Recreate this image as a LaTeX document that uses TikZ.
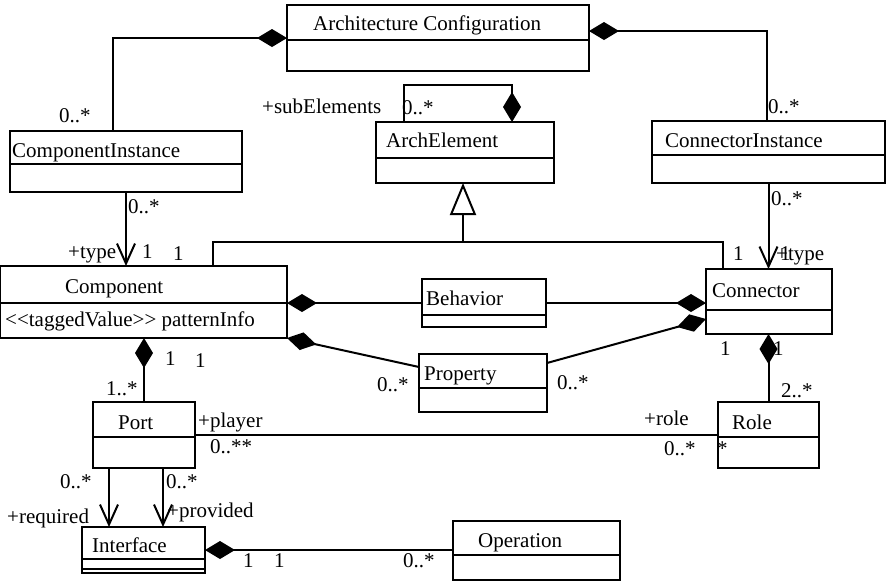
\documentclass[tikz,border=0pt]{standalone}
\usepackage{fontspec}
\setmainfont{Liberation Serif}
\usetikzlibrary{arrows.meta,fit}

% class box from its two corners
\newcommand\umlclassbox[5]{%
  \path (#2,#3) coordinate (#1-nw) (#4,#5) coordinate (#1-se);
  \node[classbox, fit=(#1-nw)(#1-se)] (#1) {};
}
% compartment line across a class box at height #2
\newcommand\umlcompartment[2]{%
  \draw[divider] (#1.west |- 0,#2) -- (#1.east |- 0,#2);
}

\begin{document}
\begin{tikzpicture}[x=1pt,y=-1pt,
  font=\fontsize{21}{25}\selectfont,
  classbox/.style={draw, line width=2.4pt, inner sep=0pt, outer sep=0pt},
  divider/.style={line width=2pt},
  txt/.style={anchor=base west, inner sep=0pt},
  link/.style={line width=2pt},
  compo/.style={link, {Diamond[length=30pt,width=18pt]}-},
  navig/.style={link, -{Straight Barb[length=20pt,width=18pt]}},
  generalize/.style={link, -{Triangle[open,length=32pt,width=26pt,fill=white]}},
]
\useasboundingbox (0,0) rectangle (887,582);

% classes
\umlclassbox{cfg}{287}{5}{589}{71}     \umlcompartment{cfg}{40}
\umlclassbox{ci}{10}{131}{242}{192}    \umlcompartment{ci}{164}
\umlclassbox{ae}{376}{122}{554}{183}   \umlcompartment{ae}{158}
\umlclassbox{coi}{652}{121}{885}{183}  \umlcompartment{coi}{155}
\umlclassbox{comp}{0}{266}{287}{338}   \umlcompartment{comp}{303}
\umlclassbox{beh}{422}{279}{546}{327}  \umlcompartment{beh}{315}
\umlclassbox{conn}{706}{269}{832}{334} \umlcompartment{conn}{310}
\umlclassbox{prop}{419}{354}{547}{412} \umlcompartment{prop}{388}
\umlclassbox{port}{93}{402}{195}{468}  \umlcompartment{port}{437}
\umlclassbox{role}{718}{402}{819}{468} \umlcompartment{role}{437}
\umlclassbox{intf}{82}{527}{205}{573}  \umlcompartment{intf}{559} \umlcompartment{intf}{569}
\umlclassbox{op}{453}{521}{620}{580}   \umlcompartment{op}{555}

% class names
\node[txt] (cfg-name)  at (313,30)  {Architecture Configuration};
\node[txt] (ci-name)   at (12,157)  {ComponentInstance};
\node[txt] (ae-name)   at (386,147) {ArchElement};
\node[txt] (coi-name)  at (665,147) {ConnectorInstance};
\node[txt] (comp-name) at (65,293)  {Component};
\node[txt] (comp-attr) at (5,326)   {<{}<taggedValue>{}> patternInfo};
\node[txt] (beh-name)  at (426,305) {Behavior};
\node[txt] (prop-name) at (424,380) {Property};
\node[txt] (conn-name) at (712,297) {Connector};
\node[txt] (port-name) at (118,429) {Port};
\node[txt] (role-name) at (732,429) {Role};
\node[txt] (intf-name) at (92,552)  {Interface};
\node[txt] (op-name)   at (478,547) {Operation};

% compositions
\draw[compo] (cfg.west) -| (ci.north -| 113,0);
\draw[compo] (cfg.east |- 0,31) -| (coi.north -| 767,0);
\draw[compo] (ae.north -| 512,0) -- (512,85) -| (ae.north -| 404,0);
\draw[compo] (comp.east |- beh.west) -- (beh.west);
\draw[compo] (conn.west |- beh.east) -- (beh.east);
\draw[compo] (comp.south east) -- (prop.west |- 0,367);
\draw[compo] (conn.west |- 0,319) -- (prop.east |- 0,363);
\draw[compo] (conn.south -| role.north) -- (role.north);
\draw[compo] (comp.south -| port.north) -- (port.north);
\draw[compo] (intf.east) -- (op.west |- intf.east);

% generalization
\coordinate (genj) at (463,242);
\draw[generalize] (genj) -- (ae.south -| genj);
\draw[link] (comp.north -| 213,0) -- (213,242) -- (723,242) -- (conn.north -| 723,0);

% navigable associations
\draw[navig] (ci.south) -- (comp.north -| ci.south);
\draw[navig] (coi.south) -- (conn.north -| coi.south);
\draw[navig] (port.south -| 109,0) -- (intf.north -| 109,0);
\draw[navig] (port.south -| 163,0) -- (intf.north -| 163,0);
\draw[link] (port.east) -- (role.west |- port.east);

% roles and multiplicities
\node[txt] (m1)  at (59,122)  {0..*};
\node[txt] (m2)  at (262,113) {+subElements};
\node[txt] (m3)  at (402,114) {0..*};
\node[txt] (m4)  at (768,113) {0..*};
\node[txt] (m5)  at (128,213) {0..*};
\node[txt] (m6)  at (68,258)  {+type};
\node[txt] (m7)  at (142,258) {1};
\node[txt] (m8)  at (173,260) {1};
\node[txt] (m9)  at (771,205) {0..*};
\node[txt] (m10) at (733,260) {1};
\node[txt] (m11) at (776,260) {+type};
\node[txt] (m12) at (780,260) {1};
\node[txt] (m13) at (720,355) {1};
\node[txt] (m14) at (773,355) {1};
\node[txt] (m15) at (781,397) {2..*};
\node[txt] (m16) at (165,365) {1};
\node[txt] (m17) at (195,367) {1};
\node[txt] (m18) at (106,395) {1..*};
\node[txt] (m19) at (377,391) {0..*};
\node[txt] (m20) at (557,389) {0..*};
\node[txt] (m21) at (198,427) {+player};
\node[txt] (m22) at (210,453) {0..**};
\node[txt] (m23) at (644,425) {+role};
\node[txt] (m24) at (664,455) {0..*};
\node[txt] (m25) at (717,455) {*};
\node[txt] (m26) at (60,488)  {0..*};
\node[txt] (m27) at (166,488) {0..*};
\node[txt] (m28) at (7,523)   {+required};
\node[txt] (m29) at (167,517) {+provided};
\node[txt] (m30) at (243,567) {1};
\node[txt] (m31) at (274,567) {1};
\node[txt] (m32) at (403,567) {0..*};
\end{tikzpicture}
\end{document}
